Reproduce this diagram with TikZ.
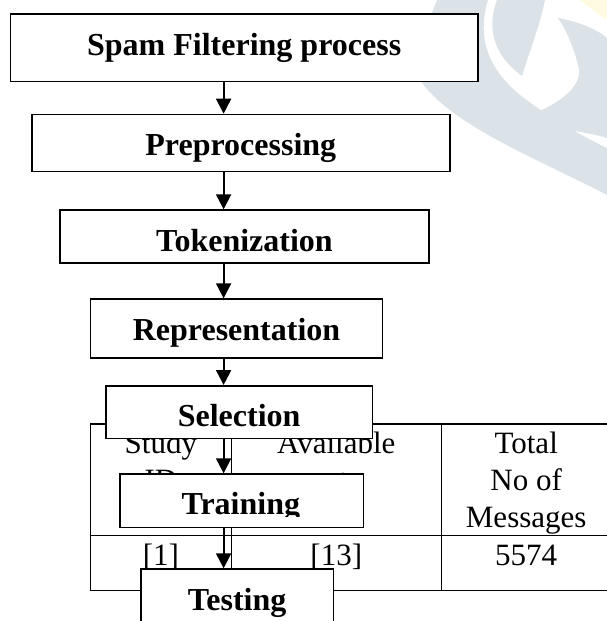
\documentclass[tikz,border=0pt]{standalone}
\usepackage{fontspec}
\setmainfont{Liberation Serif}
\usepackage{xcolor}
\usetikzlibrary{arrows.meta, calc}

\definecolor{markgrey}{RGB}{219,227,232}
\definecolor{markyellow}{RGB}{255,251,224}

\tikzset{
    stepbox/.style={draw, line width=1.6pt, fill=white, inner sep=0pt, anchor=north west,
        text height=41pt, font=\fontsize{32}{38}\selectfont\bfseries},
    flow/.style={line width=2pt, -{Triangle[width=15pt,length=15pt]}},
    tablerule/.style={line width=1.5pt},
    cell/.style={anchor=base, align=center, inner sep=0pt, font=\fontsize{31}{37}\selectfont}
}

\begin{document}
\begin{tikzpicture}[x=1pt, y=-1pt]
        \useasboundingbox (0,0) rectangle (607,621);
        \clip (0,0) rectangle (607,621);

        % watermark
        \fill[markgrey] (437,0) -- (488,0) .. controls (476,40) and (490,70) .. (520,95)
            .. controls (550,118) and (580,135) .. (607,148) -- (607,195)
            .. controls (540,160) and (450,125) .. (420,80) .. controls (425,30) .. (437,0) -- cycle;
        \fill[markgrey] (497,0) .. controls (484,35) and (500,60) .. (522,76)
            .. controls (530,50) and (540,25) .. (545,0) -- cycle;
        \fill[markgrey] (558,18) .. controls (580,22) and (598,30) .. (607,38) -- (607,138)
            .. controls (580,130) and (545,128) .. (522,118) .. controls (560,105) and (585,85) .. (578,65)
            .. controls (573,45) and (565,28) .. (558,18) -- cycle;
        \fill[markyellow] (580,0) -- (607,0) -- (607,20) .. controls (595,12) .. (580,0) -- cycle;

        % table (base = last line)
        \draw[tablerule] (90.5,424) rectangle (611,590.7);
        \draw[tablerule] (90.5,535.7) -- (611,535.7);
        \draw[tablerule] (231.3,424) -- (231.3,590.7);
        \draw[tablerule] (441.4,424) -- (441.4,590.7);
        \node[cell] (studyhead) at (160.9,490) {Study\\ID};
        \node[cell] (availhead) at (336.3,490) {Available\\at};
        \node[cell] (totalhead) at (526.2,527) {Total\\No of\\Messages};
        \node[cell] (studyval) at (160.9,565.7) {[1]};
        \node[cell] (availval) at (336.3,565.7) {[13]};
        \node[cell] (totalval) at (526.2,565.7) {5574};

        % process boxes
        \node[stepbox, minimum width=467.3pt, text depth=26.4pt] (spam) at (9.7,13.3) {Spam Filtering process};
        \node[stepbox, minimum width=418pt, text depth=16pt] (prep) at (31,113.7) {Preprocessing};
        \node[stepbox, minimum width=368.8pt, text depth=11.7pt] (token) at (59.2,209.3) {Tokenization};
        \node[stepbox, minimum width=292.1pt, text depth=18pt] (repr) at (89.7,298.3) {Representation};
        \node[stepbox, minimum width=266.3pt, text depth=11.7pt] (select) at (105.2,385) {Selection};
        \node[stepbox, minimum width=243.4pt, text depth=12.4pt] (train) at (119.1,473.3) {};
        \begin{scope}
            \clip (119.1,473.3) rectangle (362.5,516);
            \node[anchor=base, inner sep=0pt, font=\fontsize{32}{38}\selectfont\bfseries] (trainlabel) at (240.8,514.3) {Training};
        \end{scope}
        \node[stepbox, minimum width=192.7pt, text depth=29pt] (test) at (140,568.3) {Testing};

        % arrows
        \coordinate (spine) at (223.6,0);
        \draw[flow] (spam.south -| spine) -- (prep.north -| spine);
        \draw[flow] (prep.south -| spine) -- (token.north -| spine);
        \draw[flow] (token.south -| spine) -- (repr.north -| spine);
        \draw[flow] (repr.south -| spine) -- (select.north -| spine);
        \draw[flow] (select.south -| spine) -- (train.north -| spine);
        \draw[flow] (train.south -| spine) -- (test.north -| spine);
\end{tikzpicture}
\end{document}
